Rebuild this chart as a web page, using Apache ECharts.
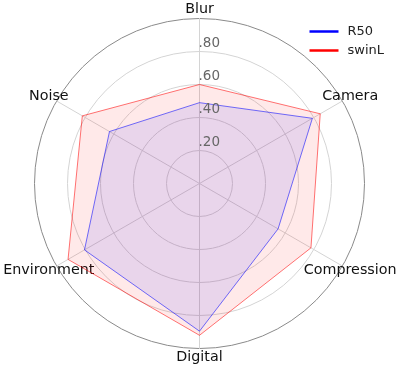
<!DOCTYPE html>
<html>
<head>
<meta charset="utf-8">
<script src="https://cdn.jsdelivr.net/npm/echarts@6/dist/echarts.min.js"></script>
<style>
html,body{margin:0;padding:0;background:#fff;}
#c{width:401px;height:369px;}
</style>
</head>
<body>
<div id="c"></div>
<script>
// Categories in clockwise order starting at the top
const categories = ['Blur', 'Camera', 'Compression', 'Digital', 'Environment', 'Noise'];
const r50 = [0.49, 0.79, 0.55, 0.895, 0.805, 0.63];
const swinL = [0.60, 0.845, 0.78, 0.92, 0.92, 0.82];
const tickValues = [0.2, 0.4, 0.6, 0.8];

// ECharts radar places indicators counter-clockwise; reorder to clockwise
function toCCW(arr) { return [arr[0]].concat(arr.slice(1).reverse()); }

const chart = echarts.init(document.getElementById('c'), null, {renderer: 'canvas'});
const FONT = 'DejaVu Sans';
const center = [199.5, 183.5];
const radius = 165;

chart.setOption({
  animation: false,
  textStyle: {fontFamily: FONT},
  legend: {
    orient: 'vertical',
    right: 12,
    top: 20,
    icon: 'rect',
    itemWidth: 29,
    itemHeight: 2.5,
    itemGap: 6,
    data: ['R50', 'swinL'],
    textStyle: {fontFamily: FONT, fontSize: 13, color: '#222', padding: [0, 0, 0, 4]}
  },
  radar: {
    center: center,
    radius: radius,
    startAngle: 90,
    splitNumber: 5,
    shape: 'circle',
    indicator: toCCW(categories).map(n => ({name: n, min: 0, max: 1})),
    nameGap: 9,
    axisName: {
      color: '#111',
      fontFamily: FONT,
      fontSize: 14.3,
      align: 'center',
      verticalAlign: 'middle'
    },
    axisLine: {lineStyle: {color: '#d4d4d4', width: 1}},
    splitLine: {lineStyle: {color: ['#d4d4d4', '#d4d4d4', '#d4d4d4', '#d4d4d4', '#d4d4d4', '#8a8a8a'], width: 1}},
    splitArea: {show: false},
    axisTick: {show: false},
    axisLabel: {show: false}
  },
  polar: {center: center, radius: radius},
  angleAxis: {
    type: 'value', startAngle: 90, min: 0, max: 360, show: false
  },
  radiusAxis: {
    type: 'value', min: 0, max: 1, interval: 0.2,
    axisLine: {show: false}, axisTick: {show: false}, splitLine: {show: false},
    axisLabel: {
      show: true,
      color: '#666',
      fontFamily: FONT,
      fontSize: 13.5,
      margin: 1,
      align: 'left',
      verticalAlign: 'bottom',
      padding: [0, 0, 1, 0],
      formatter: function (v) {
        const hit = tickValues.some(t => Math.abs(t - v) < 1e-6);
        return hit ? v.toFixed(2).replace(/^0/, '') : '';
      }
    },
    z: 5
  },
  series: [{
    type: 'radar',
    symbol: 'none',
    data: [
      {
        name: 'swinL',
        value: toCCW(swinL),
        itemStyle: {color: '#ff0000'},
        lineStyle: {color: 'rgba(255,0,0,0.55)', width: 1},
        areaStyle: {color: 'rgba(255,0,0,0.12)'}
      },
      {
        name: 'R50',
        value: toCCW(r50),
        itemStyle: {color: '#0000ff'},
        lineStyle: {color: 'rgba(0,0,255,0.55)', width: 1},
        areaStyle: {color: 'rgba(0,0,255,0.12)'}
      }
    ]
  }]
});
</script>
</body>
</html>
